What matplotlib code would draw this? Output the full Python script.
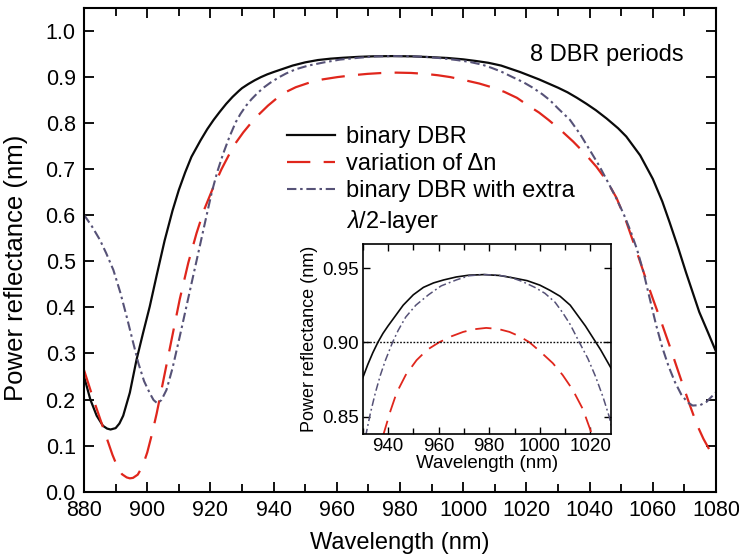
import matplotlib
matplotlib.use("Agg")
import matplotlib.pyplot as plt
from matplotlib.lines import Line2D
from matplotlib.ticker import MultipleLocator, FormatStrFormatter

plt.rcParams['font.family'] = ['Liberation Sans', 'DejaVu Sans']
plt.rcParams['mathtext.fontset'] = 'custom'
plt.rcParams['mathtext.it'] = 'Liberation Sans:italic'
plt.rcParams['mathtext.rm'] = 'Liberation Sans'

# ---- data ----
wl_binary = [880, 882, 884, 886, 887.3, 888.4, 890, 891.2, 892.4, 894.5, 896.6, 898.7, 900.8, 903,
             905.5, 908, 910, 912, 914, 916.9, 919, 921, 923, 925, 927, 929, 930, 932, 934, 936, 938,
             940, 943, 946, 950, 954, 958, 962, 967, 972, 978, 984, 990, 995, 1000, 1004, 1008,
             1012, 1015, 1018, 1021, 1024, 1027, 1030, 1033, 1036, 1039, 1042, 1045.4, 1049, 1051.6,
             1056, 1060, 1063, 1065.3, 1068, 1070.5, 1074.7, 1077.5, 1080]
R_binary = [0.250, 0.200, 0.165, 0.143, 0.137, 0.135, 0.138, 0.148, 0.165, 0.215, 0.286, 0.345, 0.402,
            0.470, 0.545, 0.610, 0.655, 0.693, 0.727, 0.763, 0.787, 0.807, 0.825, 0.842, 0.857, 0.870,
            0.876, 0.885, 0.893, 0.900, 0.906, 0.911, 0.918, 0.925, 0.932, 0.937, 0.940, 0.942, 0.944,
            0.9452, 0.9456, 0.9450, 0.9432, 0.9415, 0.9385, 0.935, 0.931, 0.925, 0.918, 0.911, 0.903,
            0.895, 0.886, 0.877, 0.867, 0.855, 0.842, 0.828, 0.810, 0.789, 0.771, 0.730, 0.679, 0.630,
            0.585, 0.530, 0.476, 0.390, 0.345, 0.304]

wl_dn = [880, 883, 886, 889, 890.5, 892, 893.5, 894.5, 895.5, 897, 898.5, 900, 901.5, 903, 906, 908,
         910.3, 913, 915.6, 918, 920.8, 923.5, 926, 928, 930.4, 934, 938.2, 941, 943.4, 947, 951.3,
         955.5, 960.2, 965, 969.7, 974, 978.8, 983.5, 988, 992, 995.9, 1000, 1005.1, 1009, 1013,
         1017, 1020.6, 1024, 1027, 1031, 1034.8, 1038.5, 1042.2, 1045.5, 1048.5, 1051.5, 1054.7,
         1057.5, 1060, 1062.7, 1065.3, 1068, 1070, 1071.6, 1074, 1076, 1078, 1080]
R_dn = [0.264, 0.200, 0.140, 0.080, 0.055, 0.038, 0.031, 0.029, 0.030, 0.037, 0.055, 0.085, 0.125,
        0.170, 0.272, 0.340, 0.418, 0.497, 0.561, 0.612, 0.659, 0.700, 0.733, 0.757, 0.780, 0.810,
        0.838, 0.854, 0.866, 0.878, 0.888, 0.895, 0.900, 0.904, 0.907, 0.9088, 0.9097, 0.909, 0.907,
        0.904, 0.900, 0.894, 0.886, 0.878, 0.868, 0.855, 0.838, 0.823, 0.807, 0.784, 0.760, 0.734,
        0.705, 0.674, 0.638, 0.588, 0.525, 0.468, 0.419, 0.368, 0.317, 0.262, 0.222, 0.190, 0.145,
        0.115, 0.090, 0.068]

wl_half = [880, 882.5, 885, 887, 889.3, 891.5, 893.5, 895.5, 897.2, 899, 900.8, 902, 903.2, 904.5,
           906.1, 908, 910.3, 912.4, 914.5, 916.6, 918.7, 920.5, 922.2, 924, 926, 928, 929.5, 931.3,
           933, 935, 937, 939, 941.8, 944, 947, 951, 956, 961, 967, 972, 977.5, 983, 988, 993, 998,
           1002, 1006, 1009, 1012, 1015.6, 1019, 1022, 1025, 1027.4, 1030, 1033.8, 1037, 1040.1,
           1043, 1045.4, 1048, 1050.7, 1053, 1055, 1057, 1059, 1061, 1063, 1065, 1067, 1069, 1071,
           1072.6, 1075, 1077, 1080]
R_half = [0.601, 0.576, 0.547, 0.518, 0.481, 0.432, 0.380, 0.325, 0.279, 0.240, 0.214, 0.199, 0.192,
          0.199, 0.221, 0.268, 0.337, 0.402, 0.467, 0.532, 0.597, 0.652, 0.695, 0.733, 0.770, 0.802,
          0.820, 0.838, 0.852, 0.866, 0.878, 0.888, 0.900, 0.908, 0.917, 0.925, 0.932, 0.938, 0.942,
          0.9448, 0.9456, 0.9453, 0.944, 0.941, 0.937, 0.933, 0.927, 0.920, 0.912, 0.900, 0.889,
          0.877, 0.863, 0.850, 0.832, 0.807, 0.776, 0.741, 0.708, 0.677, 0.643, 0.604, 0.565, 0.526,
          0.478, 0.420, 0.363, 0.313, 0.272, 0.238, 0.211, 0.194, 0.187, 0.188, 0.195, 0.216]

threshold = 0.90

labels = ["binary DBR", "variation of \u0394n", "binary DBR with extra", r"$\lambda$/2-layer"]

BLACK = '#0a0a0a'
RED = '#e0261c'
PURPLE = '#565277'

fig = plt.figure(figsize=(7.39, 5.59), dpi=100)
ax = fig.add_axes([0.1137, 0.1204, 0.8552, 0.8653])

l1, = ax.plot(wl_binary, R_binary, color=BLACK, lw=1.6)
l2, = ax.plot(wl_dn, R_dn, color=RED, lw=1.6, dashes=(10.5, 6))
l3, = ax.plot(wl_half, R_half, color=PURPLE, lw=1.5, dashes=(4.5, 1.8, 1.2, 1.8))

ax.set_xlim(880, 1080)
ax.set_ylim(0, 1.05)
ax.xaxis.set_major_locator(MultipleLocator(20))
ax.xaxis.set_minor_locator(MultipleLocator(10))
ax.yaxis.set_major_locator(MultipleLocator(0.1))
ax.yaxis.set_major_formatter(FormatStrFormatter('%.1f'))
ax.tick_params(which='both', direction='in', top=True, right=True, width=1.3, labelsize=15.5, pad=6)
ax.tick_params(which='major', length=7)
ax.tick_params(which='minor', length=6)
for s in ax.spines.values():
    s.set_linewidth(1.5)
ax.set_xlabel("Wavelength (nm)", fontsize=17, labelpad=8)
ax.set_ylabel("Power reflectance (nm)", fontsize=18.5)
ax.yaxis.set_label_coords(-0.088, 0.4625)

ax.text(0.949, 0.935, "8 DBR periods", transform=ax.get_yaxis_transform(),
        fontsize=17, ha='right', va='baseline')

blank = Line2D([], [], color='none')
leg = ax.legend([l1, l2, l3, blank], labels, loc='upper left',
                bbox_to_anchor=(0.388, 0.7746), bbox_transform=fig.transFigure,
                frameon=False, fontsize=17, handlelength=2.05, handletextpad=0.45,
                labelspacing=0.22, borderpad=0, borderaxespad=0)

# ---- inset ----
ins = fig.add_axes([0.4908, 0.2242, 0.3356, 0.3388])
ins.plot(wl_binary, R_binary, color=BLACK, lw=1.2)
ins.plot(wl_dn, R_dn, color=RED, lw=1.3, dashes=(9, 5))
ins.plot(wl_half, R_half, color=PURPLE, lw=1.1, dashes=(5, 2, 1.2, 2))
ins.axhline(threshold, color=BLACK, lw=1.0, ls=(0, (1.2, 1.2)))
ins.set_xlim(930, 1028)
ins.set_ylim(0.8385, 0.966)
ins.xaxis.set_major_locator(MultipleLocator(20))
ins.xaxis.set_minor_locator(MultipleLocator(10))
ins.yaxis.set_major_locator(MultipleLocator(0.05))
ins.yaxis.set_major_formatter(FormatStrFormatter('%.2f'))
ins.tick_params(which='both', direction='in', top=True, right=True, width=1.0, labelsize=13.5, pad=3)
ins.tick_params(which='major', length=5)
ins.tick_params(which='minor', length=4)
for s in ins.spines.values():
    s.set_linewidth(1.2)
ins.set_xlabel("Wavelength (nm)", fontsize=13.5, labelpad=0)
ins.set_ylabel("Power reflectance (nm)", fontsize=13, labelpad=3)

fig.savefig("out.png", dpi=100)
